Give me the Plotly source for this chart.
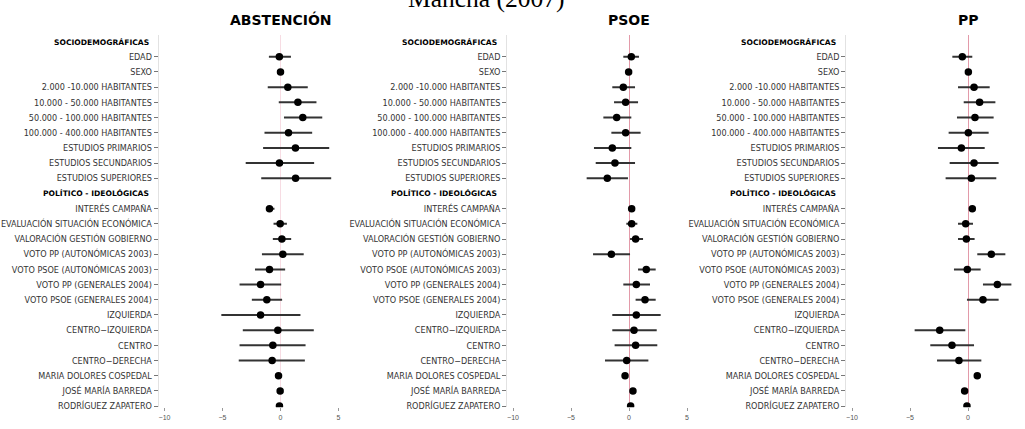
import plotly.graph_objects as go

# ---------------- data ----------------
title_text = "Mancha (2007)"
panel_titles = ["ABSTENCIÓN", "PSOE", "PP"]
group_headers = ["SOCIODEMOGRÁFICAS", "POLÍTICO - IDEOLÓGICAS"]
socio_vars = [
    "EDAD", "SEXO", "2.000 -10.000 HABITANTES", "10.000 - 50.000 HABITANTES",
    "50.000 - 100.000 HABITANTES", "100.000 - 400.000 HABITANTES",
    "ESTUDIOS PRIMARIOS", "ESTUDIOS SECUNDARIOS", "ESTUDIOS SUPERIORES",
]
polit_vars = [
    "INTERÉS CAMPAÑA", "EVALUACIÓN SITUACIÓN ECONÓMICA", "VALORACIÓN GESTIÓN GOBIERNO",
    "VOTO PP (AUTONÓMICAS 2003)", "VOTO PSOE (AUTONÓMICAS 2003)",
    "VOTO PP (GENERALES 2004)", "VOTO PSOE (GENERALES 2004)",
    "IZQUIERDA", "CENTRO−IZQUIERDA", "CENTRO", "CENTRO−DERECHA",
    "MARIA DOLORES COSPEDAL", "JOSÉ MARÍA BARREDA", "RODRÍGUEZ ZAPATERO",
]

abst_est = [-0.1, 0.0, 0.63, 1.5, 1.92, 0.69, 1.29, -0.09, 1.3,
            -0.95, -0.03, 0.12, 0.2, -0.95, -1.72, -1.18, -1.72, -0.23, -0.66, -0.72, -0.17, -0.03, -0.09]
abst_lo = [-1.0, -0.2, -1.1, -0.15, 0.3, -1.38, -1.5, -3.0, -1.66,
           -1.23, -0.6, -0.66, -1.6, -2.2, -3.53, -2.47, -5.1, -3.25, -3.53, -3.6, -0.37, -0.23, -0.29]
abst_hi = [0.9, 0.2, 2.35, 3.1, 3.6, 2.73, 4.2, 2.9, 4.37,
           -0.52, 0.55, 0.92, 2.0, 0.4, 0.06, 0.14, 1.72, 2.87, 2.16, 2.1, 0.03, 0.17, 0.11]

psoe_est = [0.2, -0.03, -0.49, -0.29, -1.06, -0.29, -1.44, -1.21, -1.87,
            0.23, 0.23, 0.57, -1.52, 1.49, 0.63, 1.38, 0.63, 0.43, 0.57, -0.2, -0.34, 0.34, 0.14]
psoe_lo = [-0.49, -0.23, -1.44, -1.29, -2.21, -1.52, -3.02, -2.87, -3.65,
           0.1, -0.23, 0.09, -3.1, 0.78, -0.49, 0.57, -1.44, -1.44, -1.24, -2.07, -0.5, 0.18, -0.02]
psoe_hi = [0.86, 0.17, 0.52, 0.78, 0.2, 1.0, 0.2, 0.52, -0.09,
           0.36, 0.72, 1.21, 0.09, 2.3, 1.81, 2.3, 2.73, 2.39, 2.44, 1.67, -0.18, 0.5, 0.3]

pp_est = [-0.49, 0.03, 0.52, 1.0, 0.6, 0.03, -0.57, 0.52, 0.29,
          0.37, -0.2, -0.14, 2.01, -0.06, 2.53, 1.29, None, -2.44, -1.38, -0.78, 0.8, -0.29, -0.09]
pp_lo = [-1.35, -0.15, -0.86, -0.37, -0.95, -1.67, -2.59, -1.58, -1.93,
         0.14, -0.86, -0.86, 0.8, -1.21, 1.29, -0.09, None, -4.6, -3.25, -2.67, 0.62, -0.47, -0.27]
pp_hi = [0.37, 0.21, 1.87, 2.36, 2.21, 1.78, 1.44, 2.64, 2.44,
         0.66, 0.43, 0.57, 3.22, 1.09, 3.74, 2.64, None, -0.23, 0.52, 1.15, 0.98, -0.11, 0.09]

x_ticks = [-10, -5, 0, 5]

# ---------------- layout helpers ----------------
W, H = 1025, 429
row_labels = [group_headers[0]] + socio_vars + [group_headers[1]] + polit_vars
header_rows = [0, 1 + len(socio_vars)]
var_rows = [i for i in range(len(row_labels)) if i not in header_rows]
var_labels = [row_labels[i] for i in var_rows]

row0_px, row_step = 42.0, 15.33
top_px, bot_px = 35.0, 411.0
y_range = [(bot_px - row0_px) / row_step, (top_px - row0_px) / row_step]
y_domain = [(H - bot_px) / H, (H - top_px) / H]

px_per_unit = 11.6
zero_px = [280.5, 629.0, 968.0]
x_ranges = [[-10.5, 5.5], [-10.5, 5.5], [-10.5, 4.9]]
zero_colors = ["#f7dce3", "#e39aa9", "#e39aa9"]

series = [
    (abst_est, abst_lo, abst_hi),
    (psoe_est, psoe_lo, psoe_hi),
    (pp_est, pp_lo, pp_hi),
]

label_font = dict(family="Liberation Sans Narrow, DejaVu Sans Condensed, Liberation Sans, sans-serif",
                  size=9, color="#333")
header_font = dict(family="DejaVu Sans", size=7.6, color="#000")

fig = go.Figure()
layout = dict(
    width=W, height=H, margin=dict(l=0, r=0, t=0, b=0),
    paper_bgcolor="white", plot_bgcolor="white", showlegend=False,
)
annotations = []

for k in range(3):
    est, lo, hi = series[k]
    xs, ys, plus, minus = [], [], [], []
    for j, r in enumerate(var_rows):
        if est[j] is None:
            continue
        xs.append(est[j])
        ys.append(r)
        plus.append(hi[j] - est[j])
        minus.append(est[j] - lo[j])
    sfx = "" if k == 0 else str(k + 1)
    fig.add_trace(go.Scatter(
        x=xs, y=ys, mode="markers", xaxis="x" + sfx, yaxis="y" + sfx,
        marker=dict(color="black", size=7.5),
        error_x=dict(type="data", symmetric=False, array=plus, arrayminus=minus,
                     color="#333", thickness=2, width=0),
        hoverinfo="skip",
    ))
    r0, r1 = x_ranges[k]
    left = zero_px[k] + r0 * px_per_unit
    right = zero_px[k] + r1 * px_per_unit
    layout["xaxis" + sfx] = dict(
        domain=[left / W, min(right / W, 1.0)], range=x_ranges[k], anchor="y" + sfx,
        showgrid=False, showline=False, zeroline=True, zerolinecolor=zero_colors[k], zerolinewidth=1.3,
        tickmode="array", tickvals=x_ticks, ticks="outside", ticklen=3, tickcolor="#999", tickwidth=1,
        tickfont=dict(family="Liberation Sans", size=7, color="#555"),
    )
    layout["yaxis" + sfx] = dict(
        domain=y_domain, range=y_range, anchor="x" + sfx,
        showgrid=False, zeroline=False, showline=True, linecolor="#e2e2e2", linewidth=1,
        tickmode="array", tickvals=var_rows, ticktext=var_labels,
        ticks="outside", ticklen=4, tickcolor="#777", tickwidth=1,
        tickfont=label_font,
    )
    # panel title
    annotations.append(dict(
        text="<b>" + panel_titles[k] + "</b>", xref="x" + sfx, yref="paper",
        x=0, y=(H - 20) / H, xanchor="center", yanchor="middle", showarrow=False,
        font=dict(family="DejaVu Sans", size=14, color="black"),
    ))
    # group headers
    for hr in header_rows:
        annotations.append(dict(
            text="<b>" + row_labels[hr] + "</b>", xref="paper", yref="y" + sfx,
            x=left / W, y=hr, xanchor="right", yanchor="middle", xshift=-8, showarrow=False,
            font=header_font,
        ))

annotations.append(dict(
    text=title_text, xref="paper", yref="paper", x=486.5 / W, y=1, xanchor="center",
    yanchor="bottom", yshift=-15, showarrow=False,
    font=dict(family="Liberation Serif", size=25.5, color="black"),
))
layout["annotations"] = annotations
fig.update_layout(**layout)
fig.write_html("out.html")
